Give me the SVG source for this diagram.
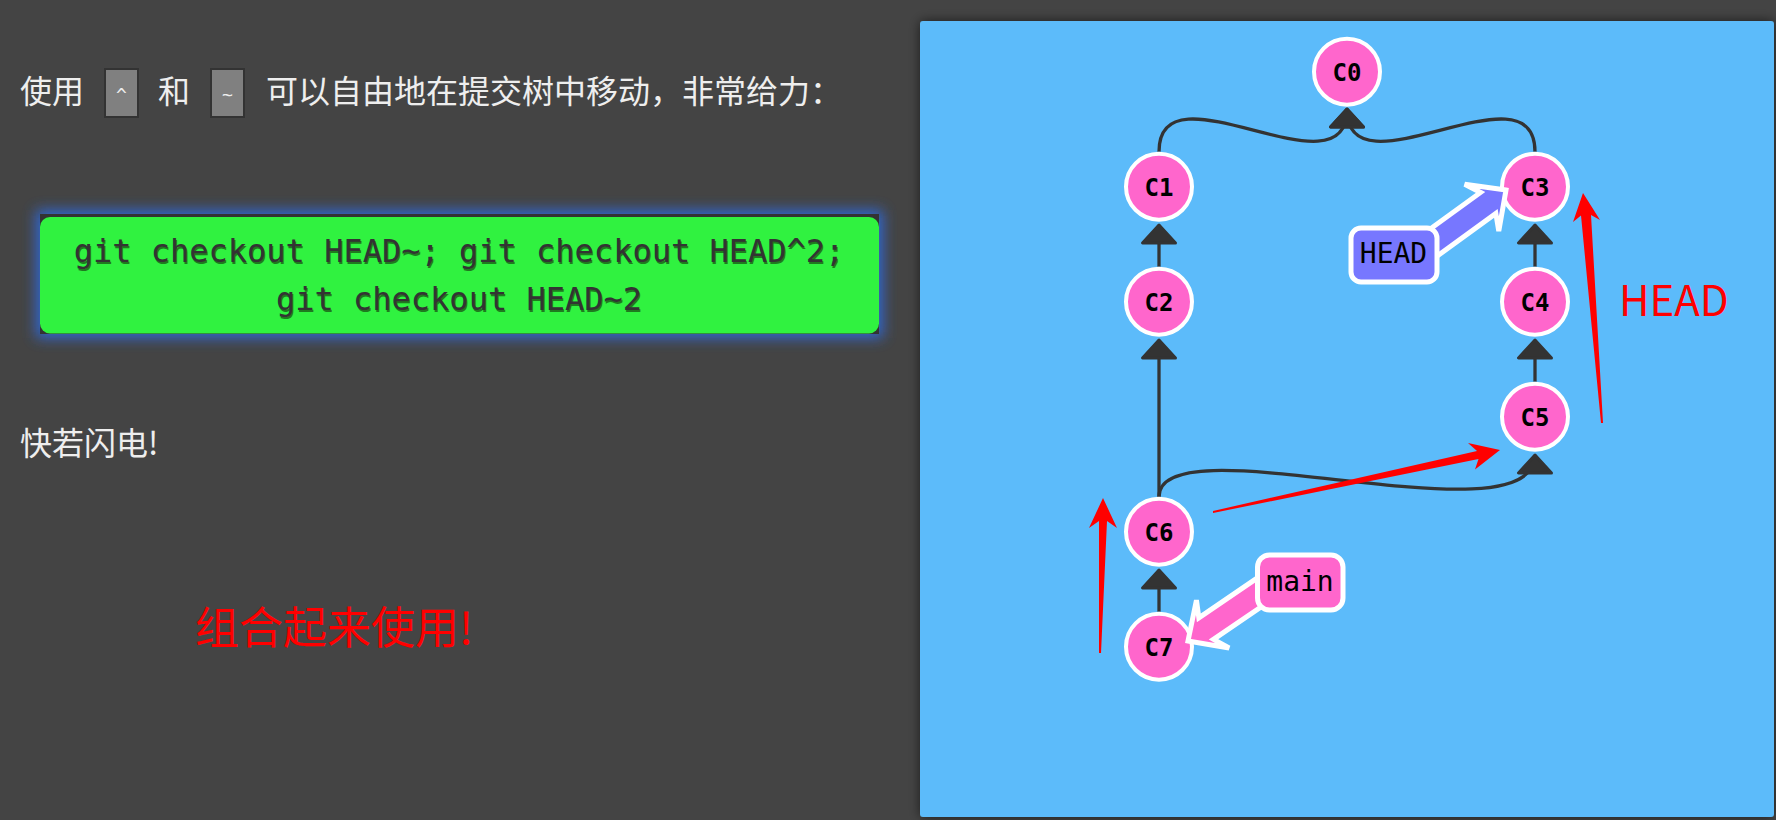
<svg xmlns="http://www.w3.org/2000/svg" width="1776" height="820" viewBox="0 0 1776 820">
<style>
.cjk{font-family:"Noto Sans CJK SC","Noto Sans",sans-serif;}
.mono{font-family:"DejaVu Sans Mono","Liberation Mono",monospace;}
.node circle{fill:#ff66cc;stroke:#ffffff;stroke-width:4;}
.node text{font-family:"DejaVu Sans Mono","Liberation Mono",monospace;font-weight:bold;font-size:24px;fill:#000;text-anchor:middle;}
.edge{fill:none;stroke:#333333;stroke-width:3.3;}
.lbl{stroke:#ffffff;stroke-width:5;}
.lbltxt{font-family:"DejaVu Sans Mono","Liberation Mono",monospace;font-size:28px;fill:#000;text-anchor:middle;}
.redarrow{fill:#ff0000;}
.cmd{font-family:"DejaVu Sans Mono","Liberation Mono",monospace;font-size:32px;text-anchor:middle;}
</style>
<defs>
<marker id="ah" markerUnits="userSpaceOnUse" markerWidth="40" markerHeight="40" viewBox="-24 -20 28 40" refX="0" refY="0" orient="auto">
<path d="M0,0 L-18,-16.5 L-18,16.5 Z" fill="#333333" stroke="#333333" stroke-width="3" stroke-linejoin="round"/>
</marker>
<filter id="pshadow" x="-5%" y="-5%" width="110%" height="110%">
<feGaussianBlur in="SourceAlpha" stdDeviation="6"/>
<feComponentTransfer><feFuncA type="linear" slope="0.6"/></feComponentTransfer>
<feMerge><feMergeNode/><feMergeNode in="SourceGraphic"/></feMerge>
</filter>
<filter id="glow" x="-10%" y="-40%" width="120%" height="180%">
<feGaussianBlur stdDeviation="7"/>
</filter>
</defs>
<rect x="0" y="0" width="1776" height="820" fill="#444444"/>

<g id="intro">
<text class="cjk" x="20" y="102.5" font-size="32" fill="#eeeeee">使用</text>
<rect x="105" y="69" width="33" height="48" fill="#808080" stroke="#333333" stroke-width="2"/>
<text class="mono" x="121.5" y="101" font-size="18" fill="#eeeeee" text-anchor="middle">^</text>
<text class="cjk" x="158" y="102.5" font-size="32" fill="#eeeeee">和</text>
<rect x="211" y="69" width="33" height="48" fill="#808080" stroke="#333333" stroke-width="2"/>
<text class="mono" x="227.5" y="101" font-size="18" fill="#eeeeee" text-anchor="middle">~</text>
<text class="cjk" x="266" y="102.5" font-size="32" fill="#eeeeee">可以自由地在提交树中移动，非常给力：</text>
</g>

<g id="command">
<rect x="36" y="210" width="847" height="128" fill="#2f6be0" opacity="0.9" filter="url(#glow)"/>
<rect x="40" y="214" width="839" height="120" fill="#333333"/>
<rect x="40" y="217" width="839" height="116.5" rx="10" fill="#30f240"/>
<text class="cmd" x="460" y="264" fill="#1f7a1f">git checkout HEAD~; git checkout HEAD^2;</text>
<text class="cmd" x="460" y="312" fill="#1f7a1f">git checkout HEAD~2</text>
<text class="cmd" x="459" y="262" fill="#333333">git checkout HEAD~; git checkout HEAD^2;</text>
<text class="cmd" x="459" y="310" fill="#333333">git checkout HEAD~2</text>
</g>

<text id="fast" class="cjk" x="20" y="454.5" font-size="32" fill="#eeeeee">快若闪电!</text>
<text id="combine" class="cjk" x="195" y="644" font-size="44" fill="#ff0000">组合起来使用!</text>

<rect id="panel" x="920" y="21" width="854" height="796" rx="3" fill="#5cbbfa" filter="url(#pshadow)"/>

<g id="connectors">
<path class="edge" d="M1159,151.7 C1159,60 1347,200 1347,109" marker-end="url(#ah)"/>
<path class="edge" d="M1535,151.7 C1535,60 1347,200 1347,109" marker-end="url(#ah)"/>
<path class="edge" d="M1159,266.7 L1159,225" marker-end="url(#ah)"/>
<path class="edge" d="M1159,496.7 L1159,340" marker-end="url(#ah)"/>
<path class="edge" d="M1535,266.7 L1535,225" marker-end="url(#ah)"/>
<path class="edge" d="M1535,381.7 L1535,340" marker-end="url(#ah)"/>
<path class="edge" d="M1159,496.7 C1159,420 1535,545 1535,455" marker-end="url(#ah)"/>
<path class="edge" d="M1159,611.7 L1159,570" marker-end="url(#ah)"/>
</g>

<g id="C0" class="node"><circle cx="1347" cy="71.7" r="33"/><text x="1347" y="80.5">C0</text></g>
<g id="C1" class="node"><circle cx="1159" cy="186.7" r="33"/><text x="1159" y="195.5">C1</text></g>
<g id="C3" class="node"><circle cx="1535" cy="186.7" r="33"/><text x="1535" y="195.5">C3</text></g>
<g id="C2" class="node"><circle cx="1159" cy="301.7" r="33"/><text x="1159" y="310.5">C2</text></g>
<g id="C4" class="node"><circle cx="1535" cy="301.7" r="33"/><text x="1535" y="310.5">C4</text></g>
<g id="C5" class="node"><circle cx="1535" cy="416.7" r="33"/><text x="1535" y="425.5">C5</text></g>
<g id="C6" class="node"><circle cx="1159" cy="531.7" r="33"/><text x="1159" y="540.5">C6</text></g>
<g id="C7" class="node"><circle cx="1159" cy="646.7" r="33"/><text x="1159" y="655.5">C7</text></g>

<g id="HEAD">
<path class="lbl" fill="#7777ff" transform="translate(1506,190) rotate(-36)" d="M0,0 L-30,-29 L-22,-13 L-115,-13 L-115,13 L-22,13 L-30,29 Z" stroke-linejoin="miter"/>
<rect class="lbl" x="1351" y="228" width="86" height="54" rx="10" fill="#7777ff"/>
<text class="lbltxt" x="1393.5" y="263">HEAD</text>
</g>

<g id="main">
<path class="lbl" fill="#ff66cc" transform="translate(1188,641) rotate(145.7)" d="M0,0 L-30,-29 L-22,-13 L-105,-13 L-105,13 L-22,13 L-30,29 Z" stroke-linejoin="miter"/>
<rect class="lbl" x="1257.5" y="555" width="85.5" height="55" rx="12" fill="#ff66cc"/>
<text class="lbltxt" x="1300" y="591">main</text>
</g>

<g id="annotations">
<polygon class="redarrow" points="1103,498 1117,528 1107,521 1101,653 1099,653 1099,521 1089,528"/>
<polygon class="redarrow" points="1500,450 1468,443 1477,451 1213,511 1213,513 1478.5,459 1475,469.5"/>
<polygon class="redarrow" points="1583,193 1600,220 1591,215 1603,423 1601,423 1581,215.4 1573,222"/>
<text x="1619" y="316" font-family="Noto Sans CJK SC, Noto Sans, sans-serif" font-size="42" fill="#ff0000">HEAD</text>
</g>
</svg>
